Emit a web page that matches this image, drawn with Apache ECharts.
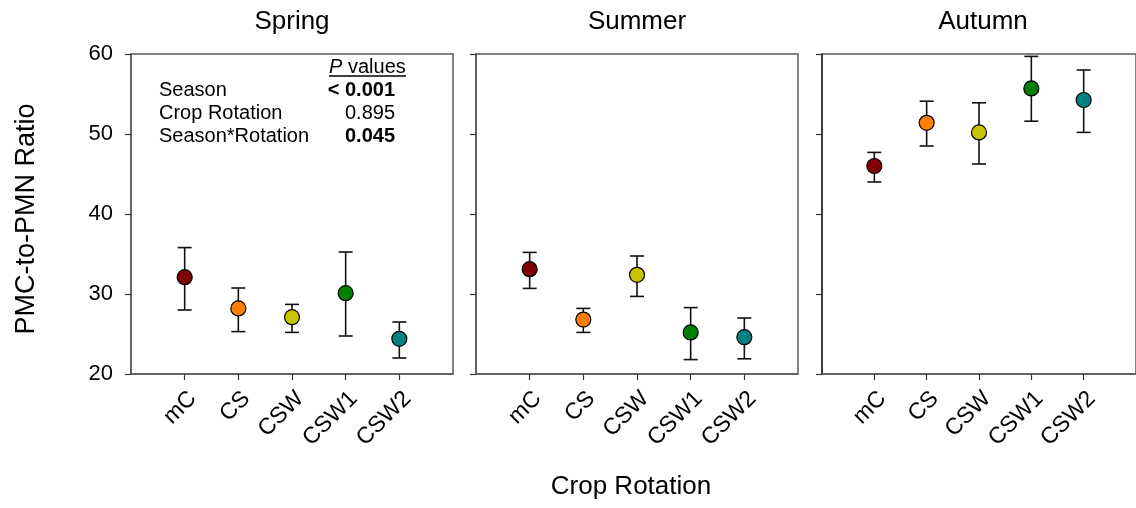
<!DOCTYPE html>
<html>
<head>
<meta charset="utf-8">
<script src="https://cdn.jsdelivr.net/npm/echarts@6/dist/echarts.min.js"></script>
<style>
html,body{margin:0;padding:0;background:#fff;}
#chart{width:1136px;height:508px;}
</style>
</head>
<body>
<div id="chart"></div>
<script>
// ---- data ----
var categories = ['mC', 'CS', 'CSW', 'CSW1', 'CSW2'];
var seasons = ['Spring', 'Summer', 'Autumn'];
var springMean = [32.1, 28.2, 27.1, 30.1, 24.4];
var springLow  = [28.0, 25.3, 25.2, 24.75, 22.0];
var springHigh = [35.8, 30.75, 28.7, 35.25, 26.5];
var summerMean = [33.1, 26.8, 32.4, 25.2, 24.6];
var summerLow  = [30.7, 25.2, 29.7, 21.8, 21.9];
var summerHigh = [35.2, 28.2, 34.75, 28.3, 27.0];
var autumnMean = [46.0, 51.4, 50.2, 55.7, 54.25];
var autumnLow  = [44.0, 48.5, 46.25, 51.6, 50.2];
var autumnHigh = [47.7, 54.1, 53.9, 59.7, 58.0];
var yTicks = [20, 30, 40, 50, 60];
var pLabels = ['Season', 'Crop Rotation', 'Season*Rotation'];
var pValues = ['< 0.001', '0.895', '0.045'];
var pBold = [true, false, true];

// ---- styles ----
var colors = ['#7f0000', '#ff8000', '#c8c400', '#008000', '#008080'];
var FONT = 'Liberation Sans, Arial, sans-serif';
var gridLefts = [131, 476, 822];
var gridTop = 54, gridW = 322, gridH = 320;
var frameColor = '#5a5a5a';

var means = [springMean, summerMean, autumnMean];
var lows = [springLow, summerLow, autumnLow];
var highs = [springHigh, summerHigh, autumnHigh];

var grids = [], xAxes = [], yAxes = [], series = [];
var catPos = categories.map(function (c, i) { return i + 1; });

for (var g = 0; g < 3; g++) {
  grids.push({
    left: gridLefts[g], top: gridTop, width: gridW, height: gridH,
    show: true, borderColor: frameColor, borderWidth: 1.5, backgroundColor: 'transparent'
  });
  xAxes.push({
    gridIndex: g, type: 'value', min: 0, max: 6, interval: 1,
    splitLine: { show: false },
    axisLine: { show: true, lineStyle: { color: frameColor, width: 1.5 } },
    axisTick: { show: true, length: 6, inside: false, customValues: catPos,
                lineStyle: { color: '#333', width: 1.2 } },
    axisLabel: {
      show: true, customValues: catPos, rotate: 45, margin: 13,
      verticalAlign: 'top', align: 'right',
      fontSize: 23, color: '#000', fontFamily: FONT,
      formatter: function (v) { return categories[Math.round(v) - 1] || ''; }
    }
  });
  yAxes.push({
    gridIndex: g, type: 'value', min: 20, max: 60, interval: 10,
    splitLine: { show: false },
    axisLine: { show: true, lineStyle: { color: g === 2 ? '#222' : frameColor, width: 1.5 } },
    axisTick: { show: true, length: 6, inside: false, lineStyle: { color: '#333', width: 1.2 } },
    axisLabel: {
      show: g === 0, margin: 18, fontSize: 22, color: '#000', fontFamily: FONT,
      customValues: yTicks
    }
  });

  // error bars
  var ebData = [];
  for (var i = 0; i < categories.length; i++) {
    ebData.push([catPos[i], lows[g][i], highs[g][i]]);
  }
  series.push({
    type: 'custom', xAxisIndex: g, yAxisIndex: g, z: 2,
    data: ebData,
    renderItem: function (params, api) {
      var x = api.value(0);
      var lo = api.coord([x, api.value(1)]);
      var hi = api.coord([x, api.value(2)]);
      var cw = 7;
      var st = { stroke: '#111', lineWidth: 1.6 };
      return {
        type: 'group',
        children: [
          { type: 'line', shape: { x1: lo[0], y1: lo[1], x2: hi[0], y2: hi[1] }, style: st },
          { type: 'line', shape: { x1: hi[0] - cw, y1: hi[1], x2: hi[0] + cw, y2: hi[1] }, style: st },
          { type: 'line', shape: { x1: lo[0] - cw, y1: lo[1], x2: lo[0] + cw, y2: lo[1] }, style: st }
        ]
      };
    }
  });

  // mean points
  var ptData = [];
  for (var j = 0; j < categories.length; j++) {
    ptData.push({ value: [catPos[j], means[g][j]], itemStyle: { color: colors[j] } });
  }
  series.push({
    type: 'scatter', xAxisIndex: g, yAxisIndex: g, z: 5,
    symbol: 'circle', symbolSize: 15,
    itemStyle: { borderColor: '#000', borderWidth: 1.2, opacity: 1 },
    data: ptData
  });
}

// ---- text graphics ----
var graphics = [];
seasons.forEach(function (s, k) {
  graphics.push({
    type: 'text', x: gridLefts[k] + gridW / 2, y: 22,
    style: { text: s, font: '26px ' + FONT, fill: '#000',
             textAlign: 'center', textVerticalAlign: 'middle', align: 'center', verticalAlign: 'middle' }
  });
});
graphics.push({
  type: 'text', x: 27, y: 219, rotation: Math.PI / 2,
  style: { text: 'PMC-to-PMN Ratio', font: '27px ' + FONT, fill: '#000',
           textAlign: 'center', textVerticalAlign: 'middle', align: 'center', verticalAlign: 'middle' }
});
graphics.push({
  type: 'text', x: 631, y: 487,
  style: { text: 'Crop Rotation', font: '26px ' + FONT, fill: '#000',
           textAlign: 'center', textVerticalAlign: 'middle', align: 'center', verticalAlign: 'middle' }
});
// P values header
graphics.push({
  type: 'text', x: 329, y: 67,
  style: { text: 'P', font: 'italic 20px ' + FONT, fill: '#000',
           textAlign: 'left', textVerticalAlign: 'middle', align: 'left', verticalAlign: 'middle' }
});
graphics.push({
  type: 'text', x: 348, y: 67,
  style: { text: 'values', font: '20px ' + FONT, fill: '#000',
           textAlign: 'left', textVerticalAlign: 'middle', align: 'left', verticalAlign: 'middle' }
});
graphics.push({
  type: 'line', shape: { x1: 329, y1: 76, x2: 406, y2: 76 },
  style: { stroke: '#000', lineWidth: 1.3 }
});
pLabels.forEach(function (t, k) {
  var yy = 90 + k * 23;
  graphics.push({
    type: 'text', x: 159, y: yy,
    style: { text: t, font: '20px ' + FONT, fill: '#000',
             textAlign: 'left', textVerticalAlign: 'middle', align: 'left', verticalAlign: 'middle' }
  });
  graphics.push({
    type: 'text', x: 395, y: yy,
    style: { text: pValues[k], font: (pBold[k] ? 'bold ' : '') + '20px ' + FONT, fill: '#000',
             textAlign: 'right', textVerticalAlign: 'middle', align: 'right', verticalAlign: 'middle' }
  });
});

var chart = echarts.init(document.getElementById('chart'), null, { renderer: 'canvas' });
chart.setOption({
  animation: false,
  backgroundColor: '#fff',
  grid: grids,
  xAxis: xAxes,
  yAxis: yAxes,
  series: series,
  graphic: { elements: graphics }
});
</script>
</body>
</html>
